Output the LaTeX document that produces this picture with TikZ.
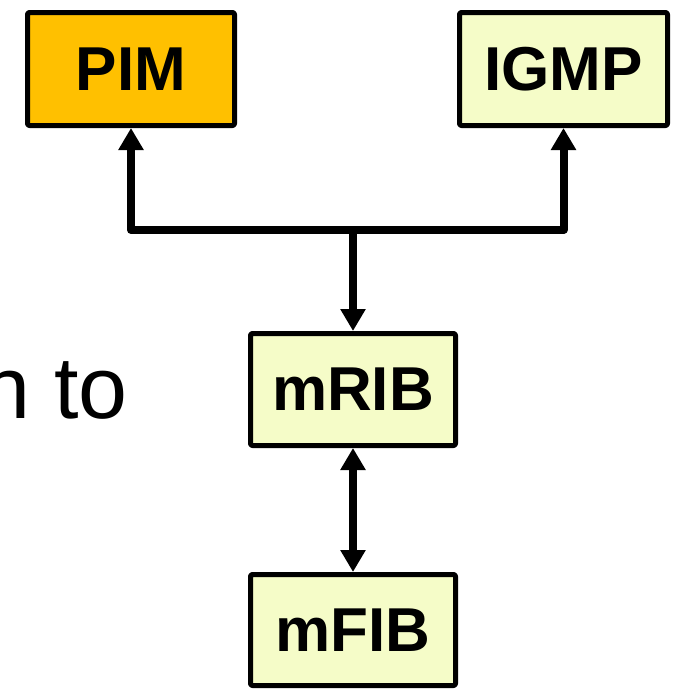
\documentclass[tikz,border=0pt]{standalone}
\usepackage{fontspec}
\setmainfont{Liberation Sans}
\usetikzlibrary{arrows.meta}
\definecolor{pimorange}{RGB}{255,192,0}
\definecolor{ribyellow}{HTML}{F5FCC8}

\begin{document}
\begin{tikzpicture}[x=1pt,y=-1pt, line cap=round,line join=round,
    box/.style={draw=black, line width=5pt, rounded corners=2pt, fill=ribyellow,
        inner sep=0pt, font=\bfseries\fontsize{62}{64}\selectfont},
    link/.style={line width=8pt, -{Triangle[width=24pt,length=22pt]}},
    dlink/.style={link, {Triangle[width=24pt,length=22pt]}-{Triangle[width=24pt,length=22pt]}}]
\useasboundingbox (0,0) rectangle (683,689);

\node[box, fill=pimorange, minimum width=207pt, minimum height=113pt] (pim) at (131,69) {PIM};
\node[box, minimum width=208pt, minimum height=113pt] (igmp) at (563.5,69) {IGMP};
\node[box, minimum width=205pt, minimum height=112pt] (mrib) at (353,389.5) {mRIB};
\node[box, minimum width=205pt, minimum height=111pt] (mfib) at (353,630) {mFIB};

% tail of the sentence on the left
\node[anchor=base east, inner sep=0pt, font=\fontsize{88}{90}\selectfont] (txt) at (128,418) {n to};

\coordinate (hub) at (mrib.north |- 0,230);
\draw[link] (hub) -| (pim.south);
\draw[link] (hub) -| (igmp.south);
\draw[link] (hub) -- (mrib.north);
\draw[dlink] (mrib.south) -- (mfib.north);
\end{tikzpicture}
\end{document}
